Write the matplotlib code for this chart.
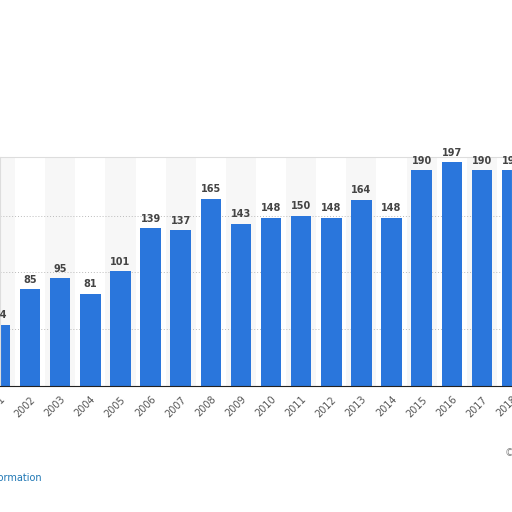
import matplotlib
matplotlib.use("Agg")
import matplotlib.pyplot as plt

years = [str(y) for y in range(2001, 2019)]
values = [54, 85, 95, 81, 101, 139, 137, 165, 143, 148, 150, 148, 164, 148, 190, 197, 190, 190]

fig = plt.figure(figsize=(5.12, 5.12), dpi=100)
ax = fig.add_axes([0.0, 0.246, 1.0, 0.447])
x = list(range(len(years)))
for i in x:
    if i % 2 == 0:
        ax.axvspan(i - 0.5, i + 0.5, color="#f7f7f7", zorder=0, lw=0)
ax.bar(x, values, width=0.68, color="#2a76dc", zorder=2)
for i, v in zip(x, values):
    ax.text(i, v + 4, str(v), ha="center", va="bottom", fontsize=7, fontweight="bold", color="#444444", zorder=3, clip_on=False)
ax.set_xlim(0.218, 16.9)
ax.set_ylim(0, 201.4)
ax.set_yticks([50, 100, 150])
ax.yaxis.grid(True, linestyle=(0, (1, 2)), color="#bbbbbb", lw=0.7)
ax.set_axisbelow(True)
ax.tick_params(axis="y", left=False, labelleft=False)
ax.set_xticks(x)
ax.set_xticklabels(years, rotation=45, ha="right", rotation_mode="anchor", fontsize=7, color="#555555")
ax.tick_params(axis="x", length=0, pad=6)
for s in ["top", "right", "left"]:
    ax.spines[s].set_color("#dddddd")
ax.spines["bottom"].set_color("#222222")
fig.text(42 / 512, 1 - 478 / 512, "Additional Information", ha="right", va="center", fontsize=7, color="#1f77b4")
fig.text(505 / 512, 1 - 453 / 512, "©", ha="left", va="center", fontsize=7, color="#888888")
fig.savefig("out.png", dpi=100)
